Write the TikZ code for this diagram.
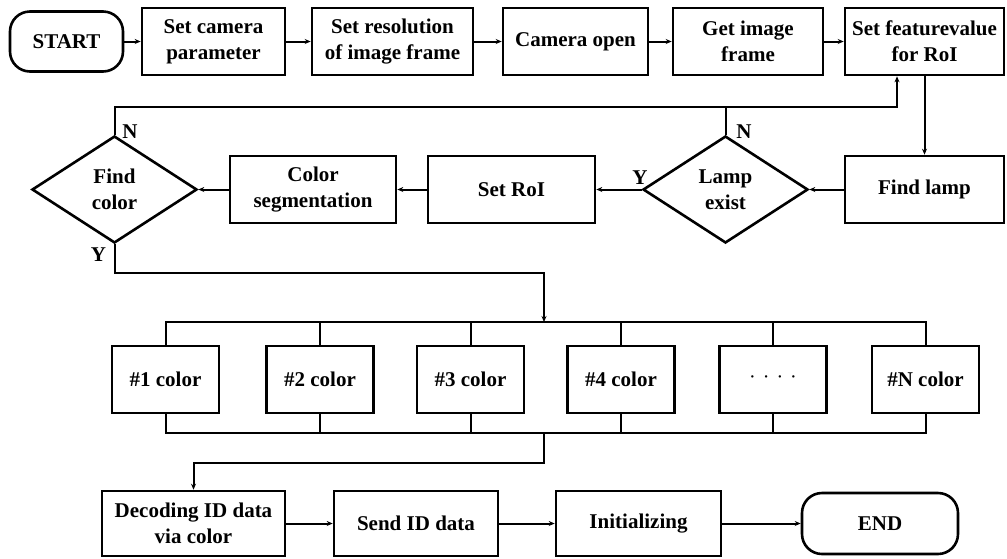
\documentclass[tikz,border=0pt]{standalone}
\usepackage{fontspec}
\setmainfont{Liberation Serif}
\usetikzlibrary{arrows.meta,shapes.geometric}

\begin{document}
\begin{tikzpicture}[x=1pt,y=-1pt,line width=2pt,
    font=\bfseries\fontsize{21}{26}\selectfont,
    procbox/.style={draw,line width=2.6pt,align=center,inner sep=0pt,minimum height=67pt},
    termbox/.style={draw,line width=2.6pt,rounded corners=20pt,inner sep=0pt},
    decbox/.style={draw,diamond,aspect=1.5,line width=2.6pt,align=center,inner sep=0pt,
                   minimum width=165pt,minimum height=107pt},
    flow/.style={-{Stealth[length=6pt,width=5pt]}},
    yn/.style={inner sep=0pt}]

        \useasboundingbox (0,0) rectangle (1007,558);

        % ------------------------------------------------ row 1: camera setup
        \node[termbox,minimum width=113pt,minimum height=60pt] (start) at (66.5,41.5) {START};
        \node[procbox,minimum width=143pt] (setcam)   at (213.5,41.5) {Set camera\\parameter};
        \node[procbox,minimum width=161pt] (setres)   at (392.5,41.5) {Set resolution\\of image frame};
        \node[procbox,minimum width=145pt] (camopen)  at (575.5,41.5) {Camera open};
        \node[procbox,minimum width=150pt] (getframe) at (748,41.5)   {Get image\\frame};
        \node[procbox,minimum width=159pt] (setfeat)  at (924.5,41.5) {Set featurevalue\\for RoI};

        \draw[flow] (start.east)    -- (setcam.west);
        \draw[flow] (setcam.east)   -- (setres.west);
        \draw[flow] (setres.east)   -- (camopen.west);
        \draw[flow] (camopen.east)  -- (getframe.west);
        \draw[flow] (getframe.east) -- (setfeat.west);

        % ------------------------------------------------ row 2: lamp and colour search
        \node[procbox,minimum width=159pt] (findlamp) at (924.5,189.5) {Find lamp};
        \node[decbox] (lampex) at (725.5,189.5) {Lamp\\exist};
        \node[procbox,minimum width=167pt] (setroi)   at (511.5,189.5) {Set RoI};
        \node[procbox,minimum width=166pt] (colseg)   at (313,189.5)   {Color\\segmentation};
        \node[decbox] (findcol) at (114.5,189.5) {Find\\color};

        \node[yn] (lamp_n) at (744,131.5) {N};
        \node[yn] (lamp_y) at (640,177.5) {Y};
        \node[yn] (col_n)  at (130,131.5) {N};
        \node[yn] (col_y)  at (98.5,254.5) {Y};

        \draw[flow] (setfeat.south)  -- (findlamp.north);
        \draw[flow] (findlamp.west)  -- (lampex.east);
        \draw[flow] (lampex.west)    -- (setroi.east);
        \draw[flow] (setroi.west)    -- (colseg.east);
        \draw[flow] (colseg.west)    -- (findcol.east);

        % N branches go back to the feature value box
        \coordinate (loop) at (897,107);
        \draw[flow] (findcol.north) |- (loop) -- (loop |- setfeat.south);
        \draw (lampex.north) -- (lampex.north |- loop);

        % ------------------------------------------------ row 3: colour channels
        \node[procbox,minimum width=107pt] (c1)    at (165.5,379.5) {\#1 color};
        \node[procbox,minimum width=107pt] (c2)    at (320,379.5)   {\#2 color};
        \node[procbox,minimum width=107pt] (c3)    at (470.5,379.5) {\#3 color};
        \node[procbox,minimum width=107pt] (c4)    at (621,379.5)   {\#4 color};
        \node[procbox,minimum width=107pt,font=\fontsize{20}{24}\selectfont] (cdots) at (773,379.5)
            {\textperiodcentered\hspace{7pt}\textperiodcentered\hspace{7pt}\textperiodcentered\hspace{7pt}\textperiodcentered};
        \node[procbox,minimum width=107pt] (cN)    at (925.5,379.5) {\#N color};

        \coordinate (ybend)  at (544,273);
        \coordinate (bustop) at (544,322);
        \coordinate (busbot) at (544,433);
        \coordinate (dbend)  at (544,463);

        \draw[flow] (findcol.south) |- (ybend) -- (bustop);

        % split bus
        \draw (c1.north) -- (c1.north |- bustop) -- (cN.north |- bustop) -- (cN.north);
        \draw (c2.north) -- (c2.north |- bustop);
        \draw (c3.north) -- (c3.north |- bustop);
        \draw (c4.north) -- (c4.north |- bustop);
        \draw (cdots.north) -- (cdots.north |- bustop);

        % merge bus
        \draw (c1.south) -- (c1.south |- busbot) -- (cN.south |- busbot) -- (cN.south);
        \draw (c2.south) -- (c2.south |- busbot);
        \draw (c3.south) -- (c3.south |- busbot);
        \draw (c4.south) -- (c4.south |- busbot);
        \draw (cdots.south) -- (cdots.south |- busbot);

        % ------------------------------------------------ row 4: decoding
        \node[procbox,minimum width=183pt,minimum height=65pt] (decode) at (193.5,523.5) {Decoding ID data\\via color};
        \node[procbox,minimum width=164pt,minimum height=65pt] (send)   at (416,523.5)   {Send ID data};
        \node[procbox,minimum width=165pt,minimum height=65pt] (init)   at (638.5,523.5) {Initializing};
        \node[termbox,minimum width=156pt,minimum height=61pt] (endn)   at (880,523.5)   {END};

        \draw[flow] (busbot) -- (dbend) -| (decode.north);
        \draw[flow] (decode.east) -- (send.west);
        \draw[flow] (send.east)   -- (init.west);
        \draw[flow] (init.east)   -- (endn.west);

\end{tikzpicture}
\end{document}
